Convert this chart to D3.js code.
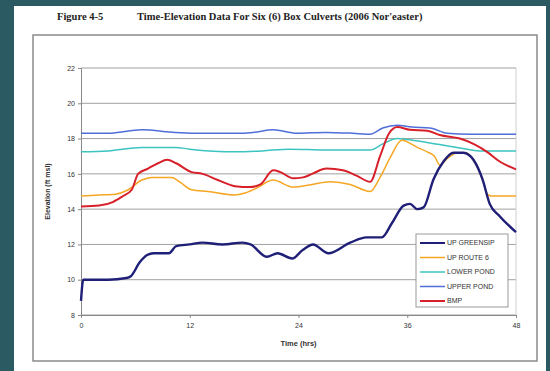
<!DOCTYPE html>
<html>
<head>
<meta charset="utf-8">
<script src="https://cdn.jsdelivr.net/npm/d3@7"></script>
<style>
  html, body { margin: 0; padding: 0; background: #2b5a62; }
  svg { display: block; }
</style>
</head>
<body>
<div id="chart"></div>
<script>
// --- data (time in hrs, elevation in ft msl) ---
const xTicks = [0, 12, 24, 36, 48];
const yTicks = [8, 10, 12, 14, 16, 18, 20, 22];

const upGreensipT = [0, 0.25, 1, 3, 5, 5.5, 6.5, 7.3, 8, 9.7, 10.5, 12, 13.4, 15.6, 17.8, 18.7, 20.5, 21.7, 23.3, 24.5, 25.6, 27.3, 29.7, 31.5, 33.2, 34.3, 35.6, 36.3, 37.1, 37.8, 38.9, 40, 41.1, 42.2, 43.3, 44.3, 45.1, 46.2, 48];
const upGreensipV = [8.8, 10.0, 10.0, 10.0, 10.1, 10.2, 11.0, 11.4, 11.5, 11.5, 11.9, 12.0, 12.1, 12.0, 12.1, 12.0, 11.3, 11.5, 11.2, 11.7, 12.0, 11.5, 12.1, 12.4, 12.4, 13.2, 14.2, 14.3, 14.0, 14.1, 15.7, 16.7, 17.2, 17.2, 16.8, 15.7, 14.3, 13.6, 12.7];

const upRoute6T = [0, 2, 3.8, 5.2, 6.7, 7.8, 10, 11, 12.2, 14, 17, 18, 19.4, 21.2, 23.4, 25.5, 27.5, 29.7, 31.9, 33, 34.1, 35.4, 37.1, 38.2, 39, 39.6, 40.5, 41.5, 42.5, 43.5, 44.3, 44.9, 45.3, 48];
const upRoute6V = [14.75, 14.8, 14.85, 15.1, 15.65, 15.8, 15.8, 15.5, 15.1, 15.0, 14.8, 14.9, 15.2, 15.65, 15.25, 15.4, 15.55, 15.4, 15.0, 15.8, 16.9, 17.9, 17.5, 17.25, 17.0, 16.5, 16.9, 17.2, 17.2, 16.6, 15.7, 14.8, 14.75, 14.75];

const lowerPondT = [0, 3, 6.7, 10.4, 12, 17, 20, 23, 27, 31.9, 33.3, 34.9, 36, 38.5, 42, 44, 48];
const lowerPondV = [17.25, 17.3, 17.5, 17.5, 17.4, 17.25, 17.3, 17.4, 17.35, 17.35, 17.7, 18.0, 17.95, 17.75, 17.45, 17.3, 17.3];

const upperPondT = [0, 3, 6.7, 10.4, 14, 17, 19, 21.2, 23.8, 27, 30, 31.9, 33.3, 34.9, 36.5, 38.5, 40.4, 43, 48];
const upperPondV = [18.3, 18.3, 18.5, 18.35, 18.3, 18.3, 18.35, 18.5, 18.3, 18.35, 18.3, 18.25, 18.6, 18.75, 18.65, 18.6, 18.3, 18.25, 18.25];

const bmpT = [0, 2, 3.5, 4.5, 5.6, 6.3, 7.4, 8.5, 9.5, 10.5, 12.2, 13.4, 15.1, 17, 18.6, 19.8, 21.2, 22, 23.4, 24.5, 25.5, 27.1, 28.9, 30.4, 31.9, 33, 34, 34.9, 36.3, 38.2, 39.6, 41.8, 43.3, 44.8, 46.2, 48];
const bmpV = [14.15, 14.2, 14.4, 14.7, 15.1, 16.0, 16.3, 16.6, 16.8, 16.6, 16.1, 16.0, 15.65, 15.3, 15.25, 15.4, 16.2, 16.1, 15.75, 15.8, 16.0, 16.3, 16.2, 15.9, 15.55, 17.0, 18.3, 18.65, 18.5, 18.45, 18.2, 18.0, 17.7, 17.25, 16.7, 16.25];

const seriesNames = ['UP GREENSIP', 'UP ROUTE 6', 'LOWER POND', 'UPPER POND', 'BMP'];
const seriesColors = ['#1f1f78', '#f5a623', '#3cc4c0', '#4f6fd8', '#d8202a'];
const seriesWidths = [2.4, 1.5, 1.5, 1.5, 2];
const seriesT = [upGreensipT, upRoute6T, lowerPondT, upperPondT, bmpT];
const seriesV = [upGreensipV, upRoute6V, lowerPondV, upperPondV, bmpV];

const W = 550, H = 371;
const margin = { left: 81, right: 34, top: 68, bottom: 56 };

const svg = d3.select('#chart').append('svg')
  .attr('width', W).attr('height', H);

// page
svg.append('rect').attr('x', 14).attr('y', 6).attr('width', 532).attr('height', H - 6).attr('fill', '#fff');

// figure title
svg.append('text')
  .attr('x', 57).attr('y', 20)
  .attr('font-family', 'Liberation Serif, Times New Roman, serif')
  .attr('font-weight', 'bold').attr('font-size', '10.5px')
  .attr('fill', '#222')
  .text('Figure 4-5');
svg.append('text')
  .attr('x', 137).attr('y', 20)
  .attr('font-family', 'Liberation Serif, Times New Roman, serif')
  .attr('font-weight', 'bold').attr('font-size', '10.5px')
  .attr('fill', '#222')
  .text("Time-Elevation Data For Six (6) Box Culverts (2006 Nor'easter)");

// chart frame
svg.append('rect')
  .attr('x', 33).attr('y', 35).attr('width', 504).attr('height', 326)
  .attr('fill', '#fff').attr('stroke', '#8a8a8a').attr('stroke-width', 1.5);

const x = d3.scaleLinear().domain([0, 48]).range([margin.left, W - margin.right]);
const y = d3.scaleLinear().domain([8, 22]).range([H - margin.bottom, margin.top]);

// gridlines
const grid = svg.append('g');
grid.selectAll('line')
  .data(yTicks)
  .enter().append('line')
  .attr('x1', x(0)).attr('x2', x(48))
  .attr('y1', d => y(d)).attr('y2', d => y(d))
  .attr('stroke', '#a0a0a0').attr('stroke-width', 1);

// right edge of plot area
svg.append('line')
  .attr('x1', x(48)).attr('x2', x(48))
  .attr('y1', y(22)).attr('y2', y(8))
  .attr('stroke', '#d0d0d0').attr('stroke-width', 1);

// axes
const yAxis = svg.append('g')
  .attr('transform', `translate(${x(0)},0)`)
  .call(d3.axisLeft(y).tickValues(yTicks).tickSize(3).tickPadding(3));
const xAxis = svg.append('g')
  .attr('transform', `translate(0,${y(8)})`)
  .call(d3.axisBottom(x).tickValues(xTicks).tickSize(3).tickPadding(5));

[xAxis, yAxis].forEach(g => {
  g.select('.domain').attr('stroke', '#888');
  g.selectAll('.tick line').attr('stroke', '#888');
  g.selectAll('.tick text')
    .attr('fill', '#333')
    .style('font-family', 'Liberation Sans, Arial, sans-serif')
    .style('font-size', '7px');
});

// axis titles
svg.append('text')
  .attr('transform', `translate(50,${(y(8) + y(22)) / 2}) rotate(-90)`)
  .attr('text-anchor', 'middle')
  .attr('font-family', 'Liberation Sans, Arial, sans-serif')
  .attr('font-weight', 'bold').attr('font-size', '7px')
  .attr('fill', '#333')
  .text('Elevation (ft msl)');
svg.append('text')
  .attr('x', x(24)).attr('y', 346)
  .attr('text-anchor', 'middle')
  .attr('font-family', 'Liberation Sans, Arial, sans-serif')
  .attr('font-weight', 'bold').attr('font-size', '7.5px')
  .attr('fill', '#333')
  .text('Time (hrs)');

// series lines (draw order: ponds first, greensip last on top)
const line = d3.line()
  .x(d => x(d[0]))
  .y(d => y(d[1]))
  .curve(d3.curveMonotoneX);

const drawOrder = [3, 2, 1, 4, 0];
drawOrder.forEach(i => {
  const pts = seriesT[i].map((t, k) => [t, seriesV[i][k]]);
  svg.append('path')
    .datum(pts)
    .attr('fill', 'none')
    .attr('stroke', seriesColors[i])
    .attr('stroke-width', seriesWidths[i])
    .attr('stroke-linejoin', 'round')
    .attr('d', line);
});

// legend
const lg = svg.append('g').attr('transform', 'translate(416,234)');
lg.append('rect')
  .attr('width', 92).attr('height', 73)
  .attr('fill', '#fff').attr('stroke', '#999').attr('stroke-width', 1);
seriesNames.forEach((name, i) => {
  const ly = 9 + i * 14.5;
  lg.append('line')
    .attr('x1', 4).attr('x2', 29)
    .attr('y1', ly).attr('y2', ly)
    .attr('stroke', seriesColors[i])
    .attr('stroke-width', Math.min(seriesWidths[i], 2));
  lg.append('text')
    .attr('x', 31).attr('y', ly).attr('dy', '0.35em')
    .attr('font-family', 'Liberation Sans, Arial, sans-serif')
    .attr('font-size', '7px').attr('fill', '#333')
    .text(name);
});
</script>
</body>
</html>
